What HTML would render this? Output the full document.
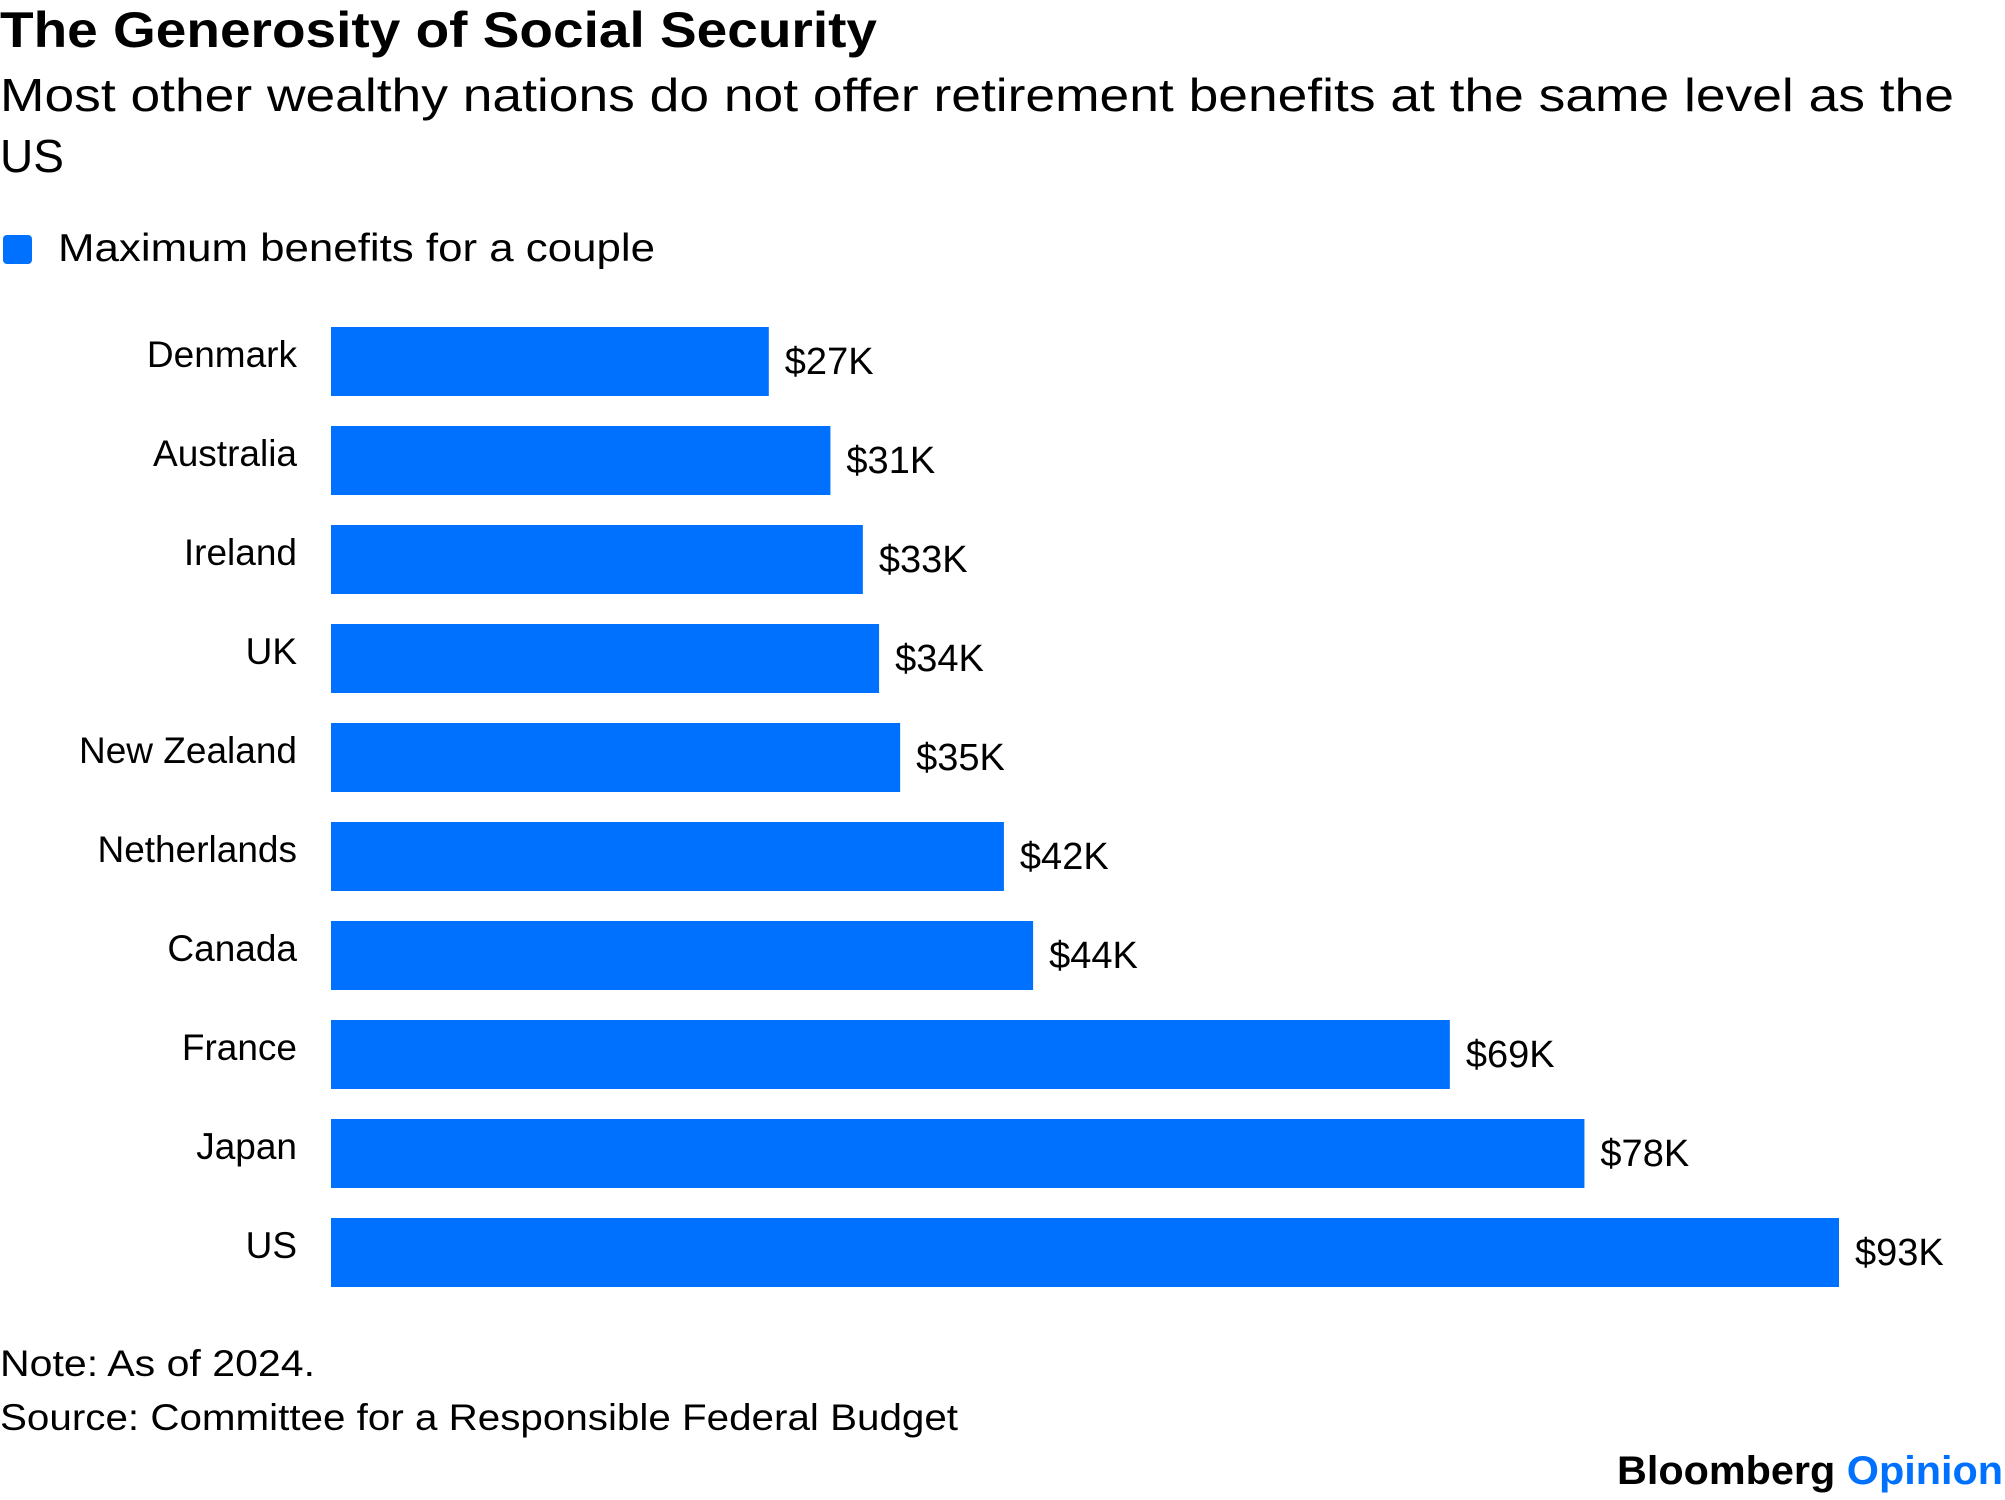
<!DOCTYPE html>
<html><head><meta charset="utf-8"><style>
html,body{margin:0;padding:0;background:#fff;}
svg{display:block;font-family:"Liberation Sans",Arial,sans-serif;}
</style></head><body>
<svg id="chart" width="2005" height="1500" viewBox="0 0 2005 1500">
<text x="0" y="47" font-size="50" font-weight="bold" fill="#000" textLength="877" lengthAdjust="spacingAndGlyphs">The Generosity of Social Security</text>
<text x="0" y="111" font-size="46" fill="#000" textLength="1954" lengthAdjust="spacingAndGlyphs">Most other wealthy nations do not offer retirement benefits at the same level as the</text>
<text x="0" y="172" font-size="46" fill="#000">US</text>
<rect x="3" y="235" width="29" height="29" rx="4" fill="#0070FF"/>
<text x="58" y="261" font-size="39" fill="#000" textLength="597" lengthAdjust="spacingAndGlyphs">Maximum benefits for a couple</text>
<g id="bars"></g>
<text x="0" y="1376" font-size="37" fill="#000" textLength="315" lengthAdjust="spacingAndGlyphs">Note: As of 2024.</text>
<text x="0" y="1430" font-size="37" fill="#000" textLength="958" lengthAdjust="spacingAndGlyphs">Source: Committee for a Responsible Federal Budget</text>
<text x="1617" y="1484" font-size="40" font-weight="bold" fill="#000" textLength="386" lengthAdjust="spacingAndGlyphs">Bloomberg <tspan fill="#0070FF">Opinion</tspan></text>
</svg>
<script>
const categories = ["Denmark","Australia","Ireland","UK","New Zealand","Netherlands","Canada","France","Japan","US"];
const values = [27,30.8,32.8,33.8,35.1,41.5,43.3,69,77.3,93];
const valueLabels = ["$27K","$31K","$33K","$34K","$35K","$42K","$44K","$69K","$78K","$93K"];

const NS = "http://www.w3.org/2000/svg";
const g = document.getElementById("bars");
const x0 = 331, xMax = 1839, vMax = 93;
const xScale = v => x0 + (v / vMax) * (xMax - x0);
const yTop0 = 327, pitch = 99, barH = 69;
const yScale = i => yTop0 + i * pitch;

categories.forEach((c, i) => {
  const y = yScale(i);
  const r = document.createElementNS(NS, "rect");
  r.setAttribute("x", x0);
  r.setAttribute("y", y);
  r.setAttribute("width", xScale(values[i]) - x0);
  r.setAttribute("height", barH);
  r.setAttribute("fill", "#0070FF");
  
  
  g.appendChild(r);

  const lab = document.createElementNS(NS, "text");
  lab.setAttribute("x", 297);
  lab.setAttribute("y", y + 40);
  lab.setAttribute("text-anchor", "end");
  lab.setAttribute("font-size", "37");
  lab.textContent = c;
  
  
  g.appendChild(lab);

  const vl = document.createElementNS(NS, "text");
  vl.setAttribute("x", xScale(values[i]) + 16);
  vl.setAttribute("y", y + 47);
  vl.setAttribute("font-size", "38");
  vl.textContent = valueLabels[i];
  
  
  g.appendChild(vl);
});
</script>
</body></html>
